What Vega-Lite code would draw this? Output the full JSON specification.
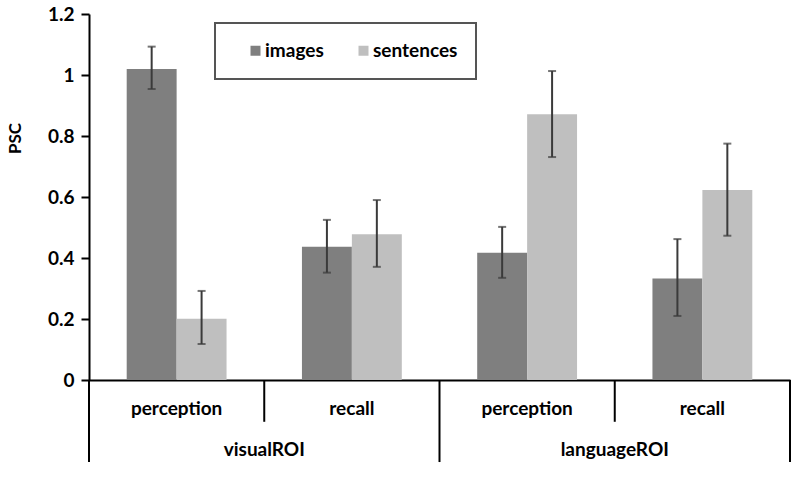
{
  "$schema": "https://vega.github.io/schema/vega-lite/v6.json",
  "width": 701,
  "height": 366,
  "autosize": {"type": "none"},
  "padding": {"left": 89, "top": 14, "right": 10, "bottom": 98},
  "datasets": {
    "psc": [
      {"roi": "visualROI", "cond": "perception", "cell": "visualROI perception", "type": "images", "psc": 1.02, "lo": 0.954, "hi": 1.093},
      {"roi": "visualROI", "cond": "perception", "cell": "visualROI perception", "type": "sentences", "psc": 0.201, "lo": 0.118, "hi": 0.292},
      {"roi": "visualROI", "cond": "recall", "cell": "visualROI recall", "type": "images", "psc": 0.437, "lo": 0.352, "hi": 0.525},
      {"roi": "visualROI", "cond": "recall", "cell": "visualROI recall", "type": "sentences", "psc": 0.478, "lo": 0.371, "hi": 0.59},
      {"roi": "languageROI", "cond": "perception", "cell": "languageROI perception", "type": "images", "psc": 0.417, "lo": 0.335, "hi": 0.502},
      {"roi": "languageROI", "cond": "perception", "cell": "languageROI perception", "type": "sentences", "psc": 0.871, "lo": 0.731, "hi": 1.013},
      {"roi": "languageROI", "cond": "recall", "cell": "languageROI recall", "type": "images", "psc": 0.333, "lo": 0.21, "hi": 0.462},
      {"roi": "languageROI", "cond": "recall", "cell": "languageROI recall", "type": "sentences", "psc": 0.623, "lo": 0.473, "hi": 0.775}
    ]
  },
  "data": {"name": "psc"},
  "layer": [
    {
      "layer": [
        {
          "mark": {"type": "bar"},
          "encoding": {
            "x": {
              "field": "cell",
              "type": "nominal",
              "sort": ["visualROI perception", "visualROI recall", "languageROI perception", "languageROI recall"],
              "scale": {"paddingInner": 0, "paddingOuter": 0},
              "axis": {
                "title": null,
                "labelExpr": "split(datum.label, ' ')[1]",
                "labelAngle": 0,
                "ticks": false,
                "tickSize": 0,
                "labelPadding": 19,
                "domainColor": "#000000",
                "domainWidth": 2
              }
            },
            "xOffset": {
              "field": "type",
              "type": "nominal",
              "scale": {"paddingInner": 0, "paddingOuter": 0.755}
            },
            "y": {
              "field": "psc",
              "type": "quantitative",
              "scale": {"domain": [0, 1.2], "nice": false},
              "axis": {
                "title": "PSC",
                "values": [0, 0.2, 0.4, 0.6, 0.8, 1, 1.2],
                "format": ".1~f",
                "grid": false,
                "labelPadding": 7,
                "titleAngle": -90,
                "titleX": -74,
                "titleY": 124,
                "titleAlign": "center",
                "titleBaseline": "middle",
                "titleFontSize": 17
              }
            },
            "color": {
              "field": "type",
              "type": "nominal",
              "scale": {"domain": ["images", "sentences"], "range": ["#7f7f7f", "#bfbfbf"]},
              "legend": {
                "title": null,
                "orient": "none",
                "legendX": 126,
                "legendY": 9,
                "direction": "horizontal"
              }
            }
          }
        },
        {
          "mark": {"type": "rule", "color": "#3a3a3a", "strokeWidth": 2},
          "encoding": {
            "x": {"field": "cell", "type": "nominal", "sort": ["visualROI perception", "visualROI recall", "languageROI perception", "languageROI recall"]},
            "xOffset": {"field": "type", "type": "nominal"},
            "y": {"field": "lo", "type": "quantitative"},
            "y2": {"field": "hi"}
          }
        },
        {
          "mark": {"type": "tick", "color": "#3a3a3a", "thickness": 2, "size": 8},
          "encoding": {
            "x": {"field": "cell", "type": "nominal", "sort": ["visualROI perception", "visualROI recall", "languageROI perception", "languageROI recall"]},
            "xOffset": {"field": "type", "type": "nominal"},
            "y": {"field": "lo", "type": "quantitative"}
          }
        },
        {
          "mark": {"type": "tick", "color": "#3a3a3a", "thickness": 2, "size": 8},
          "encoding": {
            "x": {"field": "cell", "type": "nominal", "sort": ["visualROI perception", "visualROI recall", "languageROI perception", "languageROI recall"]},
            "xOffset": {"field": "type", "type": "nominal"},
            "y": {"field": "hi", "type": "quantitative"}
          }
        },
        {
          "transform": [{"filter": "datum.type == 'images' && datum.cond == 'recall'"}],
          "mark": {"type": "rule", "color": "#000000", "strokeWidth": 2},
          "encoding": {
            "x": {"field": "cell", "type": "nominal", "bandPosition": 0, "sort": ["visualROI perception", "visualROI recall", "languageROI perception", "languageROI recall"]},
            "y": {"datum": 0},
            "y2": {"datum": -0.137}
          }
        },
        {
          "transform": [{"filter": "datum.type == 'images' && datum.cell == 'languageROI recall'"}],
          "mark": {"type": "rule", "color": "#000000", "strokeWidth": 2},
          "encoding": {
            "x": {"field": "cell", "type": "nominal", "bandPosition": 1, "sort": ["visualROI perception", "visualROI recall", "languageROI perception", "languageROI recall"]},
            "y": {"datum": 0},
            "y2": {"datum": -0.269}
          }
        }
      ]
    },
    {
      "transform": [{"filter": "datum.type == 'images' && datum.cond == 'perception'"}],
      "mark": {"type": "rule", "color": "#000000", "strokeWidth": 2},
      "encoding": {
        "x": {
          "field": "roi",
          "type": "nominal",
          "sort": ["visualROI", "languageROI"],
          "bandPosition": 0,
          "scale": {"paddingInner": 0, "paddingOuter": 0},
          "axis": {
            "title": null,
            "orient": "bottom",
            "labelAngle": 0,
            "ticks": false,
            "tickSize": 0,
            "domain": false,
            "labelPadding": 60
          }
        },
        "y": {"datum": 0},
        "y2": {"datum": -0.269}
      }
    }
  ],
  "resolve": {"scale": {"x": "independent"}, "axis": {"x": "independent"}},
  "config": {
    "view": {"stroke": null},
    "font": "Lato",
    "axis": {
      "labelFont": "Lato",
      "labelFontSize": 19,
      "labelFontWeight": "bold",
      "labelColor": "#000000",
      "titleFont": "Lato",
      "titleFontWeight": "bold",
      "titleColor": "#000000",
      "domainColor": "#000000",
      "domainWidth": 2,
      "tickColor": "#000000",
      "tickWidth": 2,
      "tickSize": 8,
      "labelPadding": 6
    },
    "legend": {
      "labelFont": "Lato",
      "labelFontSize": 19,
      "labelFontWeight": "bold",
      "labelColor": "#000000",
      "symbolType": "square",
      "symbolSize": 100,
      "symbolStrokeWidth": 0,
      "symbolOpacity": 1,
      "symbolOffset": 13,
      "labelOffset": 0,
      "columnPadding": 17,
      "padding": 18,
      "strokeColor": "#555555",
      "strokeWidth": 2,
      "fillColor": "#ffffff",
      "cornerRadius": 0
    }
  }
}
